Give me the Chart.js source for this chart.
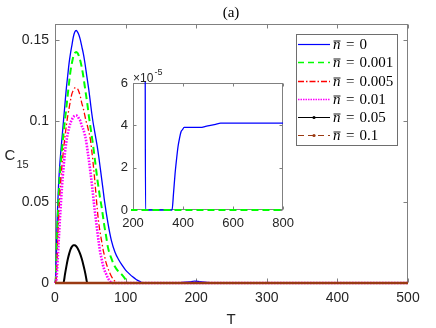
<!DOCTYPE html>
<html><head><meta charset="utf-8">
<script src="https://cdn.jsdelivr.net/npm/chart.js@4.4.0/dist/chart.umd.min.js"></script>
<style>
html,body{margin:0;padding:0;background:#fff}
#wrap{position:relative;width:436px;height:328px}
#main{position:absolute;left:0;top:0}
#inset{position:absolute;left:96px;top:56px}
</style>
</head><body>
<div id="wrap"><canvas id="main" width="436" height="328"></canvas><canvas id="inset" width="204" height="180"></canvas></div>
<script>
// ---------- data ----------
const seriesLabels = ['0', '0.001', '0.005', '0.01', '0.05', '0.1'];

const blueT = [0,1,2,3,4,5,6,8,10,12,14,16,18,20,22,24,26,28,30,32,34,36,38,40,42,44,46,48,50,52,54,56,58,60,62,65,68,70,75,80,85,90,95,100,105,110,115,120,125,170,180,190,198,205,215,230,245,248,250,356,362,368,374,380,386,392,398,404,410,416,440,470,490,510,530,550,570,600,700,800];
const blueC = [0,0.004,0.02,0.038,0.05,0.06,0.068,0.08,0.09,0.1,0.11,0.12,0.128,0.136,0.142,0.147,0.152,0.155,0.156,0.155,0.153,0.150,0.146,0.142,0.137,0.131,0.125,0.119,0.112,0.105,0.099,0.094,0.089,0.084,0.078,0.068,0.058,0.051,0.037,0.026,0.019,0.0145,0.011,0.008,0.0058,0.0038,0.0022,0.001,0,0,0.0003,0.0007,0.0011,0.0008,0.0004,0.0002,0.0001,0.0001,0,0,0.000008,0.000017,0.000024,0.00003,0.000034,0.000037,0.000038,0.000039,0.000039,0.000039,0.000039,0.000039,0.0000395,0.00004,0.0000405,0.000041,0.000041,0.000041,0.000041,0.000041];

const greenT = [0,1,2,3,4,6,8,10,12,14,16,18,20,22,24,26,28,30,32,34,36,38,40,42,44,46,48,50,52,54,56,58,60,62,64,66,68,70,72,75,80,85,90,95,100,102,800];
const greenC = [0,0.002,0.015,0.03,0.042,0.06,0.073,0.083,0.092,0.1,0.108,0.116,0.124,0.131,0.136,0.140,0.142,0.1427,0.142,0.140,0.137,0.133,0.128,0.122,0.116,0.110,0.103,0.097,0.091,0.085,0.078,0.071,0.064,0.058,0.052,0.047,0.041,0.035,0.030,0.022,0.015,0.010,0.007,0.005,0.002,0,0];

const redT = [0,2,3,4,6,8,10,12,14,16,18,20,22,24,26,28,30,32,34,36,38,40,42,44,46,48,50,52,54,56,58,60,62,64,66,68,70,72,75,80,85,88,800];
const redC = [0,0.004,0.015,0.028,0.048,0.062,0.073,0.082,0.09,0.097,0.103,0.108,0.113,0.117,0.119,0.1205,0.1206,0.120,0.118,0.115,0.111,0.108,0.104,0.100,0.097,0.093,0.089,0.082,0.074,0.065,0.055,0.045,0.037,0.031,0.026,0.021,0.017,0.013,0.009,0.004,0.001,0,0];

const magT = [0,2,3,4,6,8,10,12,14,16,18,20,22,24,26,28,30,32,34,36,38,40,42,44,46,48,50,52,54,56,58,60,62,64,66,68,70,72,75,78,80,800];
const magC = [0,0.002,0.008,0.016,0.032,0.047,0.06,0.071,0.08,0.087,0.092,0.096,0.099,0.101,0.1025,0.1033,0.1035,0.103,0.1015,0.100,0.097,0.095,0.092,0.088,0.082,0.076,0.069,0.062,0.054,0.046,0.039,0.032,0.025,0.019,0.015,0.011,0.008,0.006,0.003,0.001,0,0];

const blackT = [0,12,13,14,16,18,20,22,24,26,28,30,32,34,36,38,40,42,44,45,46,800];
const blackC = [0,0,0.002,0.005,0.010,0.0145,0.018,0.0208,0.0225,0.0233,0.0233,0.0227,0.0215,0.0197,0.0175,0.0148,0.0115,0.0078,0.0035,0.001,0,0];

const brownT = [0,800];
const brownC = [0,0];

const xTicksMain = [0,100,200,300,400,500];
const yTicksMain = [0,0.05,0.1,0.15];
const xTicksInset = [200,400,600,800];
const yTicksInset = [0,2e-5,4e-5,6e-5];

// ---------- styles ----------
const styles = [
  {color:'#0000ff', width:1.3, dash:[], legendWidth:1.2, legendDash:[]},
  {color:'#00ff00', width:2, dash:[7,4], legendWidth:1.6, legendDash:[6,4]},
  {color:'#ff0000', width:1.3, dash:[6,2.5,1.5,2.5], legendWidth:1.4, legendDash:[6,2,1.5,2]},
  {color:'#ff00ff', width:2.6, dash:[1.6,1.4], legendWidth:1.6, legendDash:[1.5,1]},
  {color:'#000000', width:2, dash:[], legendWidth:1, legendDash:[], marker:true},
  {color:'#9a3a12', width:2.4, dash:[], legendWidth:1, legendDash:[6,4], marker:true},
];
const allT = [blueT, greenT, redT, magT, blackT, brownT];
const allC = [blueC, greenC, redC, magC, blackC, brownC];
const pts = (T, C) => T.map((t, i) => ({x: t, y: C[i]}));

const sansFont = "'Liberation Sans', Arial, sans-serif";
const serifFont = "'Liberation Serif', 'Times New Roman', serif";
const textCol = '#262626';
const axisCol = '#808080';

function makeDataset(i, order) {
  const s = styles[i];
  return {
    label: seriesLabels[i],
    data: pts(allT[i], allC[i]),
    borderColor: s.color, borderWidth: s.width, borderDash: s.dash,
    pointRadius: 0, fill: false, cubicInterpolationMode: 'monotone',
    clip: {left: 2, top: 2, right: 0, bottom: 3},
    order: order, styleIndex: i
  };
}

const framePlugin = {
  id: 'frame',
  beforeDraw(chart, args, o) {
    const {ctx, chartArea: a} = chart;
    ctx.save(); ctx.fillStyle = '#fff';
    if (o.bg === 'all') ctx.fillRect(0, 0, chart.width, chart.height);
    else ctx.fillRect(a.left, a.top, a.right - a.left, a.bottom - a.top);
    ctx.restore();
  },
  beforeDatasetsDraw(chart, args, o) {
    const {ctx, chartArea: a, scales} = chart;
    const L = o.len;
    ctx.save(); ctx.strokeStyle = axisCol; ctx.lineWidth = 1;
    const l = Math.round(a.left) + 0.5, r = Math.round(a.right) - 0.5;
    const t = Math.round(a.top) + 0.5, b = Math.round(a.bottom) - 0.5;
    ctx.strokeRect(l, t, r - l, b - t);
    ctx.beginPath();
    scales.x.ticks.forEach(tk => {
      const px = Math.round(scales.x.getPixelForValue(tk.value)) + 0.5;
      ctx.moveTo(px, b); ctx.lineTo(px, b - L);
      ctx.moveTo(px, t); ctx.lineTo(px, t + L);
    });
    scales.y.ticks.forEach(tk => {
      const py = Math.round(scales.y.getPixelForValue(tk.value)) + 0.5;
      ctx.moveTo(l, py); ctx.lineTo(l + L, py);
      ctx.moveTo(r, py); ctx.lineTo(r - L, py);
    });
    ctx.stroke(); ctx.restore();
  }
};

const mainText = {
  id: 'mainText',
  afterDraw(chart) {
    const ctx = chart.ctx;
    ctx.save();
    ctx.fillStyle = '#000';
    ctx.font = '15px ' + serifFont; ctx.textAlign = 'center'; ctx.textBaseline = 'alphabetic';
    ctx.fillText('(a)', 231, 17);
    ctx.fillStyle = textCol;
    ctx.font = '15px ' + sansFont; ctx.textAlign = 'left';
    ctx.fillText('C', 4.5, 160);
    ctx.font = '11px ' + sansFont;
    ctx.fillText('15', 16.5, 168);
    ctx.font = '15px ' + sansFont; ctx.textAlign = 'center';
    ctx.fillText('T', 231, 324);
    // legend
    const bx = 296.5, by = 34.5, bw = 101, bh = 111;
    ctx.fillStyle = '#fff'; ctx.fillRect(bx, by, bw, bh);
    ctx.strokeStyle = '#6e6e6e'; ctx.lineWidth = 1; ctx.setLineDash([]);
    ctx.strokeRect(bx, by, bw, bh);
    chart.data.datasets.forEach((ds, i) => {
      const s = styles[ds.styleIndex];
      const y = Math.round(44.3 + 18.14 * i) + 0.5;
      ctx.save();
      ctx.strokeStyle = s.color; ctx.lineWidth = s.legendWidth; ctx.setLineDash(s.legendDash);
      ctx.beginPath(); ctx.moveTo(298, y); ctx.lineTo(330, y); ctx.stroke();
      ctx.restore();
      if (s.marker) { ctx.fillStyle = s.color; ctx.beginPath(); ctx.arc(314, y, 1.6, 0, Math.PI * 2); ctx.fill(); }
      ctx.fillStyle = '#000';
      ctx.textAlign = 'left';
      ctx.font = 'italic 15px ' + serifFont;
      ctx.fillText('n', 333, y + 4.5);
      ctx.save();
      ctx.strokeStyle = '#000'; ctx.lineWidth = 0.9; ctx.setLineDash([]);
      ctx.beginPath(); ctx.moveTo(333.5, y - 3.5); ctx.lineTo(340.5, y - 3.5); ctx.stroke();
      ctx.restore();
      ctx.font = '15px ' + serifFont;
      ctx.fillText('=', 346, y + 4.5);
      ctx.fillText(ds.label, 359.5, y + 4.5);
    });
    ctx.restore();
  }
};

const insetText = {
  id: 'insetText',
  afterDraw(chart) {
    const ctx = chart.ctx, a = chart.chartArea;
    ctx.save(); ctx.fillStyle = textCol; ctx.textAlign = 'left';
    ctx.font = '12px ' + sansFont;
    ctx.fillText('\u00d710', a.left, a.top - 1.5);
    ctx.font = '9px ' + sansFont;
    ctx.fillText('-5', a.left + 21.5, a.top - 8);
    ctx.restore();
  }
};

// ---------- main chart ----------
new Chart(document.getElementById('main'), {
  type: 'line',
  data: { datasets: [0,1,2,3,4,5].map(i => makeDataset(i, 5 - i)) },
  options: {
    responsive: false, animation: false, events: [],
    layout: { padding: { top: 24, right: 28, left: 0, bottom: 0 } },
    plugins: { legend: { display: false }, tooltip: { enabled: false }, frame: { len: 4, bg: 'all' } },
    scales: {
      x: {
        type: 'linear', min: 0, max: 500,
        afterBuildTicks: s => { s.ticks = xTicksMain.map(v => ({value: v})); },
        afterFit: s => { s.height = 45; },
        grid: { display: false, drawTicks: false }, border: { display: false },
        ticks: { padding: 7, color: textCol, font: { family: sansFont, size: 14 }, maxRotation: 0, callback: v => String(v) }
      },
      y: {
        type: 'linear', min: 0, max: 0.16,
        afterBuildTicks: s => { s.ticks = yTicksMain.map(v => ({value: v})); },
        afterFit: s => { s.width = 55; },
        grid: { display: false, drawTicks: false }, border: { display: false },
        ticks: { padding: 6, color: textCol, font: { family: sansFont, size: 14 }, callback: v => String(v) }
      }
    }
  },
  plugins: [framePlugin, mainText]
});

// ---------- inset chart ----------
new Chart(document.getElementById('inset'), {
  type: 'line',
  data: { datasets: [makeDataset(0, 1), makeDataset(1, 0)] },
  options: {
    responsive: false, animation: false, events: [],
    layout: { padding: { top: 27, right: 13, left: 0, bottom: 0 } },
    plugins: { legend: { display: false }, tooltip: { enabled: false }, frame: { len: 3, bg: 'area' } },
    scales: {
      x: {
        type: 'linear', min: 200, max: 800,
        afterBuildTicks: s => { s.ticks = xTicksInset.map(v => ({value: v})); },
        afterFit: s => { s.height = 26; },
        grid: { display: false, drawTicks: false }, border: { display: false },
        ticks: { padding: 6, color: textCol, font: { family: sansFont, size: 13 }, maxRotation: 0, callback: v => String(v) }
      },
      y: {
        type: 'linear', min: 0, max: 6e-5,
        afterBuildTicks: s => { s.ticks = yTicksInset.map(v => ({value: v})); },
        afterFit: s => { s.width = 37; },
        grid: { display: false, drawTicks: false }, border: { display: false },
        ticks: { padding: 5, color: textCol, font: { family: sansFont, size: 13 }, callback: v => String(Math.round(v / 1e-5)) }
      }
    }
  },
  plugins: [framePlugin, insetText]
});
</script>
</body></html>
